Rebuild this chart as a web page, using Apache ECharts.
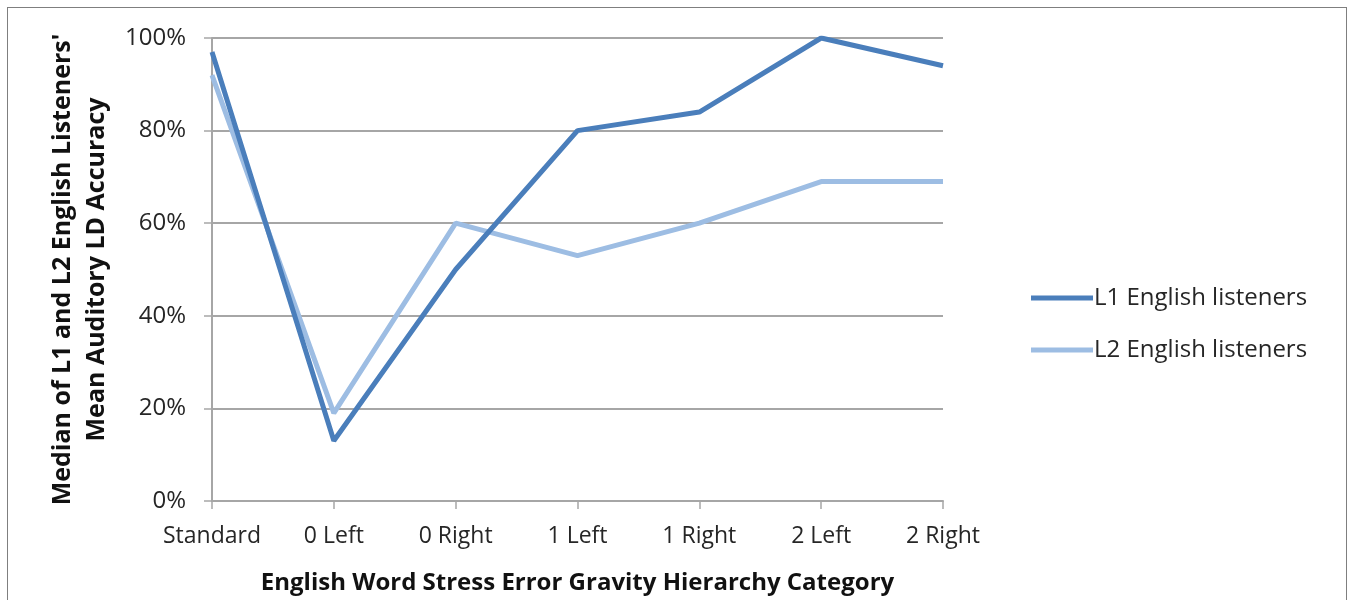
<!DOCTYPE html>
<html>
<head>
<meta charset="utf-8">
<script src="https://cdn.jsdelivr.net/npm/echarts@6/dist/echarts.min.js"></script>
<style>
html,body{margin:0;padding:0;background:#fff;}
#frame{position:absolute;left:7px;top:7px;width:1340px;height:610px;border:1.5px solid #7f7f7f;box-sizing:border-box;}
#chart{position:absolute;left:0;top:0;width:1358px;height:600px;}
</style>
</head>
<body>
<div id="frame"></div>
<div id="chart"></div>
<script>
const categories = ['Standard', '0 Left', '0 Right', '1 Left', '1 Right', '2 Left', '2 Right'];
const l1Values = [97, 13, 50, 80, 84, 100, 94];
const l2Values = [92, 19, 60, 53, 60, 69, 69];
const yTicks = [0, 20, 40, 60, 80, 100];
const seriesNames = ['L1 English listeners', 'L2 English listeners'];

const font = 'Open Sans';
const txt = '#262626';
const chart = echarts.init(document.getElementById('chart'), null, {renderer: 'canvas'});
chart.setOption({
  animation: false,
  backgroundColor: 'transparent',
  grid: {left: 212, right: 415, top: 38, bottom: 99, containLabel: false},
  legend: {
    orient: 'vertical',
    left: 1026,
    top: 281,
    itemWidth: 62,
    itemHeight: 5,
    itemGap: 28,
    icon: 'rect',
    textStyle: {fontFamily: font, fontSize: 24, color: txt, padding: [0,0,0,-4]},
    data: seriesNames
  },
  xAxis: {
    type: 'category',
    data: categories,
    boundaryGap: false,
    name: 'English Word Stress Error Gravity Hierarchy Category',
    nameLocation: 'middle',
    nameGap: 70,
    nameTextStyle: {fontFamily: font, fontSize: 24, fontWeight: 'bold', color: '#111'},
    axisLine: {lineStyle: {color: '#a6a6a6', width: 2}},
    axisTick: {show: true, interval: 0, alignWithLabel: true, length: 8, lineStyle: {color: '#a6a6a6', width: 1.5}},
    axisLabel: {fontFamily: font, fontSize: 23, color: txt, margin: 24, interval: 0, hideOverlap: false},
    splitLine: {show: false}
  },
  yAxis: {
    type: 'value',
    min: 0,
    max: 100,
    interval: 20,
    name: "Median of L1 and L2 English Listeners'\nMean Auditory LD Accuracy",
    nameLocation: 'middle',
    nameGap: 98,
    nameRotate: 90,
    nameTextStyle: {fontFamily: font, fontSize: 25, fontWeight: 'bold', color: '#111', lineHeight: 34},
    axisLine: {show: true, lineStyle: {color: '#a6a6a6', width: 2}},
    axisTick: {show: true, length: 8, lineStyle: {color: '#a6a6a6', width: 1.5}},
    axisLabel: {fontFamily: font, fontSize: 24, color: txt, margin: 26,
      formatter: v => yTicks.includes(v) ? v + '%' : ''},
    splitLine: {show: true, lineStyle: {color: '#a6a6a6', width: 2}}
  },
  series: [
    {name: seriesNames[0], type: 'line', data: l1Values, symbol: 'none',
     lineStyle: {color: '#4a7ebb', width: 5}, itemStyle: {color: '#4a7ebb'}, z: 3},
    {name: seriesNames[1], type: 'line', data: l2Values, symbol: 'none',
     lineStyle: {color: '#9dbde3', width: 5}, itemStyle: {color: '#9dbde3'}, z: 2}
  ]
});
</script>
</body>
</html>
